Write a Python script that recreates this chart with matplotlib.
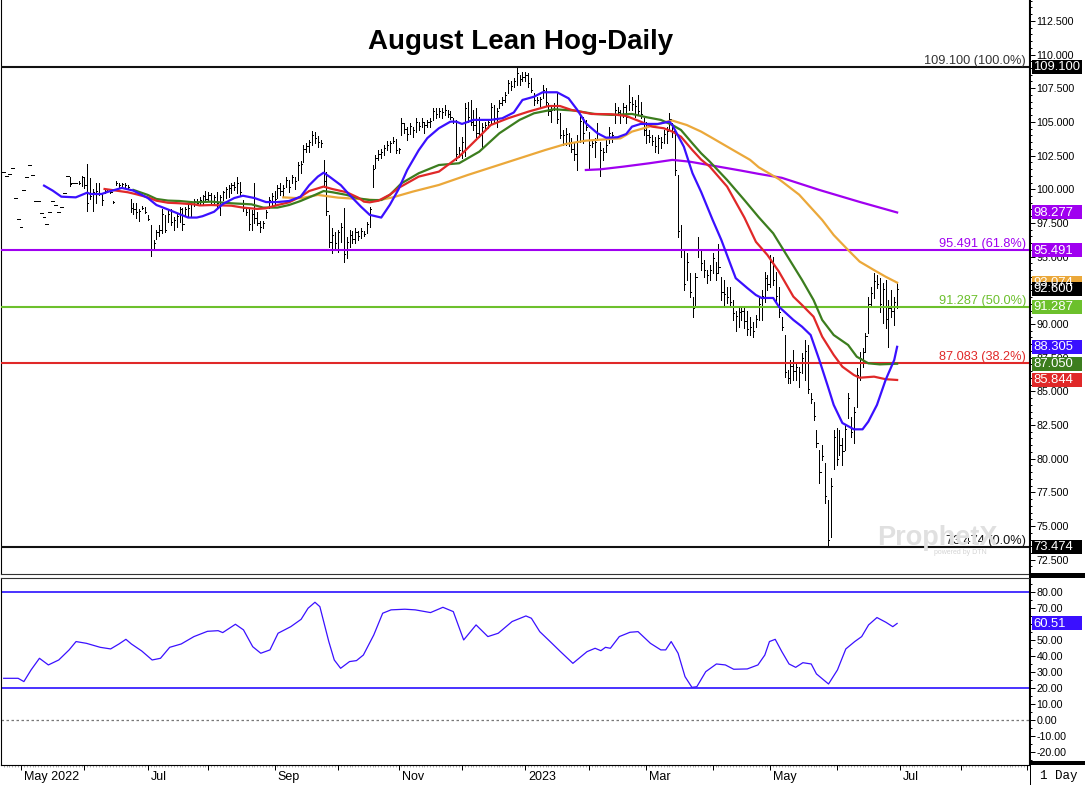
import numpy as np
import pandas as pd
import matplotlib
matplotlib.use("Agg")
import matplotlib.pyplot as plt
import matplotlib.transforms as mtransforms
from matplotlib.patches import Rectangle
from matplotlib.lines import Line2D
from matplotlib.ticker import MultipleLocator
from matplotlib import font_manager as fm

# ---------------- data ----------------
start_date = "2022-04-22"

bar_high = [
    101.3, 101.0, 101.1, 101.6, 99.35, 97.8, 97.2, 99.95, 100.9, 101.8,
    101.05, 99.1, 99.1, 98.25, 97.95, 97.4, 98.3, 99.1, 98.8, 98.3,
    98.7, 99.7, 101.0, 100.9, 100.45, 100.45, 100.6, 101.0, 100.9, 101.9,
    100.8, 100.0, 100.5, 100.45, 99.7, 100.0, 100.0, 99.9, 99.1, 100.6,
    100.45, 100.5, 100.5, 100.3, 99.3, 99.0, 99.0, 98.5, 98.75, 98.7,
    98.1, 97.35, 96.2, 97.0, 97.35, 98.5, 98.1, 98.5, 98.5, 97.95,
    98.25, 98.7, 98.6, 98.7, 98.85, 99.1, 99.3, 99.3, 99.4, 99.6,
    99.9, 99.8, 99.7, 99.6, 99.8, 99.6, 99.9, 100.2, 100.3, 100.45,
    100.55, 100.9, 100.55, 99.2, 98.7, 98.6, 98.45, 100.45, 98.3, 97.65,
    97.65, 98.45, 99.4, 99.7, 99.9, 100.3, 100.5, 100.3, 100.9, 100.7,
    101.05, 100.9, 102.0, 102.1, 103.3, 103.45, 103.65, 104.3, 104.25, 103.95,
    103.65, 102.2, 101.3, 98.1, 97.1, 96.8, 97.0, 97.5, 98.6, 96.45,
    97.0, 96.9, 97.1, 96.9, 97.1, 96.9, 97.55, 98.7, 101.8, 102.55,
    102.9, 103.0, 103.3, 103.6, 103.6, 103.9, 103.75, 103.1, 105.3, 104.9,
    104.6, 104.9, 104.6, 105.3, 105.0, 105.3, 105.0, 105.15, 105.3, 106.0,
    106.0, 106.0, 106.0, 106.25, 105.9, 105.8, 105.3, 105.15, 103.15, 103.9,
    106.4, 106.5, 106.6, 105.9, 106.0, 105.4, 104.9, 105.0, 105.15, 106.4,
    106.25, 106.0, 106.6, 106.85, 107.2, 108.1, 108.0, 108.25, 109.1, 108.5,
    108.7, 108.7, 108.6, 108.25, 107.15, 106.85, 106.85, 107.75, 107.5, 106.4,
    106.25, 106.4, 107.15, 105.65, 104.4, 104.55, 104.2, 103.8, 103.45, 104.0,
    105.6, 105.4, 105.15, 104.25, 103.65, 103.8, 104.9, 103.5, 103.05, 103.65,
    104.6, 104.25, 106.4, 106.1, 105.9, 106.4, 106.25, 107.75, 106.85, 106.6,
    107.0, 106.5, 105.3, 105.0, 104.4, 104.05, 103.9, 104.05, 103.9, 104.4,
    104.6, 105.65, 104.9, 104.4, 101.06, 97.35, 95.5, 95.3, 93.8, 92.0,
    93.8, 96.46, 95.5, 94.75, 94.0, 94.4, 95.3, 94.6, 95.9, 93.5,
    93.3, 92.75, 92.75, 91.8, 91.0, 91.3, 91.3, 91.2, 91.0, 90.5,
    90.15, 90.7, 92.0, 92.5, 93.85, 93.6, 95.1, 95.0, 93.85, 92.75,
    90.5, 89.2, 86.6, 87.3, 88.05, 87.1, 86.8, 87.85, 88.8, 88.45,
    84.9, 84.2, 82.1, 80.65, 81.0, 79.7, 76.93, 78.6, 82.1, 82.3,
    82.1, 81.5, 82.5, 84.9, 83.1, 83.85, 86.7, 87.9, 88.2, 89.3,
    92.0, 92.75, 93.8, 93.6, 93.45, 93.05, 93.3, 91.8, 92.5, 92.0, 93.05,
]

bar_low = [
    101.3, 101.0, 101.1, 101.6, 99.35, 97.8, 97.2, 99.95, 100.9, 101.8,
    101.05, 99.1, 99.1, 98.25, 97.95, 97.4, 98.3, 99.1, 98.8, 98.3,
    98.7, 99.7, 101.0,
    100.25, 100.45, 100.45, 100.4, 100.25, 100.1, 98.4,
    99.3, 98.4, 99.0, 99.6, 98.85, 99.75, 99.8, 99.75, 99.0, 100.3,
    100.2, 100.15, 100.2, 100.1, 98.3, 98.2, 97.9, 97.65, 98.5, 98.25,
    97.7, 95.05, 95.6, 96.3, 96.5, 96.75, 96.8, 97.6, 97.35, 97.0,
    97.2, 97.6, 97.0, 98.1, 97.95, 97.95, 98.75, 98.8, 98.9, 98.9,
    99.1, 99.2, 98.9, 98.85, 98.7, 98.1, 99.2, 99.35, 99.4, 99.7,
    99.95, 99.7, 99.6, 98.4, 98.1, 97.0, 97.0, 97.5, 97.35, 96.8,
    97.1, 97.9, 98.6, 98.75, 98.9, 99.35, 99.6, 99.4, 100.15, 99.8,
    100.45, 100.0, 100.7, 101.2, 102.0, 102.75, 102.75, 103.3, 103.45, 103.15,
    103.15, 100.2, 98.1, 95.7, 95.3, 95.5, 95.35, 96.1, 94.6, 94.9,
    95.7, 96.0, 96.0, 96.2, 96.4, 96.5, 96.75, 97.2, 100.2, 101.6,
    102.2, 102.3, 102.55, 102.9, 102.8, 103.4, 102.7, 102.7, 104.0, 104.2,
    103.65, 104.1, 103.9, 104.25, 104.4, 104.6, 104.2, 104.6, 104.6, 105.15,
    105.3, 105.4, 105.3, 105.5, 105.4, 105.2, 104.9, 102.2, 102.4, 102.3,
    102.5, 105.0, 104.8, 104.4, 103.9, 103.9, 103.05, 104.4, 104.55, 104.9,
    105.0, 104.6, 106.0, 106.25, 106.5, 107.15, 107.4, 107.6, 107.75, 107.75,
    108.0, 108.0, 107.6, 107.2, 106.25, 106.4, 106.1, 106.8, 106.25, 105.5,
    105.0, 105.9, 104.9, 103.8, 103.3, 103.3, 103.2, 102.75, 102.2, 101.4,
    103.5, 103.45, 104.4, 101.6, 103.15, 102.4, 103.65, 101.0, 102.2, 102.75,
    103.45, 103.5, 104.9, 105.5, 104.9, 105.4, 104.9, 105.9, 105.9, 105.4,
    105.5, 105.3, 104.05, 103.45, 103.5, 103.3, 102.75, 102.7, 103.05, 103.45,
    103.45, 104.4, 103.9, 101.06, 96.46, 95.0, 92.5, 93.3, 92.0, 90.5,
    91.3, 95.0, 94.0, 93.5, 93.05, 93.3, 93.8, 93.3, 93.8, 91.8,
    91.3, 91.55, 91.3, 90.3, 89.5, 89.8, 90.3, 89.7, 89.2, 89.2,
    89.0, 89.8, 90.3, 90.3, 91.6, 92.5, 92.75, 92.9, 91.55, 90.5,
    89.55, 86.05, 85.6, 85.6, 85.85, 85.85, 85.3, 86.35, 85.85, 84.9,
    84.15, 82.9, 80.85, 78.2, 79.9, 76.7, 73.474, 74.2, 79.2, 79.5,
    80.3, 79.5, 80.65, 83.0, 81.6, 81.2, 83.8, 85.85, 86.8, 87.9,
    89.3, 91.3, 91.9, 92.65, 90.9, 90.05, 89.7, 88.3, 90.5, 89.9, 91.2,
]

bar_close = [
    101.3, 101.0, 101.1, 101.6, 99.35, 97.8, 97.2, 99.95, 100.9, 101.8,
    101.05, 99.1, 99.1, 98.25, 97.95, 97.4, 98.3, 99.1, 98.8, 98.3,
    98.7, 99.7, 101.0,
    100.4, 100.45, 100.45, 100.5, 100.9, 100.3, 99.0,
    99.5, 99.8, 99.9, 99.7, 99.2, 99.9, 99.9, 99.8, 99.05, 100.5,
    100.3, 100.4, 100.3, 100.2, 98.6, 98.5, 98.3, 98.4, 98.6, 98.3,
    97.8, 95.6, 96.0, 96.8, 97.0, 98.2, 97.0, 98.2, 97.6, 97.7,
    98.0, 98.5, 97.4, 98.5, 98.6, 98.9, 99.1, 99.0, 99.2, 99.5,
    99.3, 99.6, 99.1, 99.4, 99.0, 99.4, 99.8, 100.0, 100.1, 100.3,
    100.2, 100.5, 99.8, 98.6, 98.3, 97.4, 98.2, 97.9, 97.5, 97.2,
    97.5, 98.3, 99.2, 99.5, 99.3, 100.1, 99.9, 100.1, 100.7, 100.2,
    100.9, 100.6, 101.8, 101.9, 103.0, 103.2, 103.5, 104.0, 103.8, 103.5,
    103.4, 100.6, 98.4, 96.1, 96.6, 96.0, 96.8, 97.2, 95.2, 96.1,
    96.6, 96.3, 96.8, 96.5, 96.9, 96.7, 97.4, 98.5, 101.5, 102.3,
    102.6, 102.8, 103.1, 103.3, 103.4, 103.6, 102.9, 103.0, 104.9, 104.5,
    104.1, 104.7, 104.4, 105.0, 104.7, 105.0, 104.8, 105.0, 105.1, 105.8,
    105.6, 105.8, 105.7, 105.9, 105.6, 105.4, 105.1, 102.6, 102.9, 103.5,
    106.0, 105.4, 105.0, 104.8, 104.2, 104.1, 104.6, 104.8, 105.0, 106.1,
    105.3, 105.8, 106.4, 106.6, 107.0, 107.9, 107.7, 108.0, 108.6, 108.2,
    108.3, 108.5, 107.9, 107.4, 106.6, 106.6, 106.7, 107.4, 106.5, 105.8,
    105.9, 106.2, 105.2, 104.0, 104.0, 104.1, 103.5, 103.0, 102.6, 103.6,
    105.1, 104.2, 104.6, 103.3, 103.4, 103.5, 104.2, 102.9, 102.8, 103.3,
    104.2, 104.0, 105.9, 105.7, 105.5, 106.1, 105.4, 106.5, 106.3, 106.2,
    105.8, 105.6, 104.4, 104.0, 103.9, 103.6, 103.2, 103.8, 103.5, 104.1,
    104.3, 105.2, 104.3, 101.4, 96.9, 95.5, 93.0, 94.6, 92.4, 91.2,
    93.5, 95.6, 94.5, 94.0, 93.6, 94.0, 94.9, 93.8, 94.2, 92.4,
    92.2, 92.0, 91.6, 90.8, 90.6, 90.9, 91.0, 90.2, 89.6, 89.8,
    89.5, 90.4, 91.5, 92.1, 93.4, 93.0, 94.6, 93.3, 92.1, 90.9,
    89.8, 86.4, 86.0, 86.9, 86.5, 86.8, 86.4, 87.5, 88.0, 85.2,
    84.4, 83.2, 81.2, 79.0, 80.2, 77.2, 74.0, 78.0, 81.6, 80.0,
    81.0, 80.6, 82.2, 84.5, 82.0, 83.5, 86.2, 87.5, 87.9, 89.1,
    91.5, 92.3, 93.2, 93.0, 91.5, 92.6, 90.4, 91.2, 91.0, 91.6, 92.6,
]

# moving averages: (trading-day index, value)
ma_blue = [
    (14, 100.27), (17, 99.9), (20, 99.45), (25, 99.4), (29, 99.75), (30, 99.65),
    (34, 99.65), (36, 99.8), (41, 100.1), (45, 99.9), (50, 99.35), (53, 98.83),
    (57, 98.5), (60, 98.24), (64, 97.9), (67, 97.9), (69, 98.0), (73, 98.33),
    (76, 98.9), (80, 99.35), (83, 99.52), (87, 99.35), (91, 99.05), (95, 99.05),
    (99, 99.13), (103, 99.45), (106, 100.3), (109, 100.94), (111, 101.23),
    (113, 100.94), (117, 100.3), (120, 99.58), (124, 98.7), (127, 98.1),
    (131, 97.9), (134, 98.85), (137, 100.0), (140, 101.43), (144, 102.9),
    (147, 103.8), (151, 104.53), (155, 105.02), (157, 105.02), (159, 104.85),
    (163, 105.15), (169, 105.15), (173, 105.27), (177, 105.7), (180, 106.63),
    (184, 106.87), (187, 107.2), (192, 107.2), (196, 106.75), (199, 105.9),
    (202, 104.9), (206, 104.16), (209, 103.83), (213, 103.86), (216, 104.1),
    (218, 104.65), (221, 104.85), (227, 104.85), (231, 105.02), (232, 104.77),
    (236, 103.16), (239, 101.19), (242, 99.8), (246, 97.72), (249, 96.24),
    (252, 94.53), (254, 93.4), (258, 92.67), (261, 92.15), (263, 91.93),
    (267, 91.93), (269, 91.28), (274, 90.3), (277, 89.8), (280, 89.18),
    (283, 87.33), (286, 85.35), (288, 83.99), (291, 82.65), (295, 82.18),
    (298, 82.18), (300, 82.75), (303, 83.99), (306, 85.84), (309, 87.33),
    (310, 88.305),
]
ma_red = [
    (35, 100.02), (39, 99.9), (43, 99.78), (46, 99.63), (50, 99.4), (53, 99.15),
    (57, 99.0), (61, 98.96), (66, 98.88), (68, 98.8), (72, 98.83), (79, 98.78),
    (83, 98.64), (88, 98.54), (91, 98.59), (95, 98.83), (99, 99.03), (103, 99.45),
    (106, 99.87), (111, 100.2), (114, 100.02), (119, 99.78), (123, 99.38),
    (125, 99.08), (127, 99.03), (130, 99.15), (134, 99.6), (137, 100.1),
    (144, 100.94), (151, 101.31), (158, 102.42), (165, 103.9), (169, 104.77),
    (175, 105.27), (182, 105.76), (189, 106.18), (193, 106.18), (197, 105.89),
    (204, 105.59), (211, 105.57), (216, 105.44), (221, 105.02), (225, 104.65),
    (229, 104.53), (232, 104.28), (235, 103.9), (239, 102.9), (242, 102.2),
    (245, 101.68), (251, 100.2), (257, 97.9), (261, 96.1), (265, 95.12),
    (269, 93.88), (274, 92.03), (277, 91.41), (281, 90.54), (284, 89.06),
    (288, 87.7), (291, 86.83), (295, 86.21), (297, 86.01), (302, 86.09),
    (306, 85.9), (310, 85.844),
]
ma_green = [
    (45, 99.95), (50, 99.58), (53, 99.28), (57, 99.16), (61, 99.13), (66, 99.03),
    (72, 99.08), (79, 98.96), (86, 98.88), (90, 98.64), (95, 98.64), (99, 98.83),
    (103, 99.13), (108, 99.58), (111, 99.87), (114, 99.78), (119, 99.58),
    (123, 99.33), (127, 99.2), (131, 99.2), (134, 99.58), (138, 100.44),
    (144, 101.19), (151, 101.8), (158, 101.93), (165, 102.79), (172, 104.16),
    (179, 105.15), (184, 105.64), (191, 105.94), (198, 105.84), (205, 105.59),
    (211, 105.52), (218, 105.59), (223, 105.35), (228, 105.15), (232, 104.77),
    (235, 104.4), (239, 103.4), (242, 102.67), (245, 102.05), (251, 100.69),
    (257, 99.2), (262, 97.92), (267, 96.73), (272, 95.0), (277, 93.27),
    (281, 91.78), (284, 90.3), (288, 89.18), (293, 88.44), (296, 87.57),
    (300, 87.08), (304, 87.0), (310, 87.05),
]
ma_orange = [
    (97, 99.4), (103, 99.33), (109, 99.58), (116, 99.38), (123, 99.28),
    (130, 99.18), (135, 99.4), (142, 99.83), (151, 100.32), (161, 101.06),
    (170, 101.68), (179, 102.3), (188, 102.92), (195, 103.36), (202, 103.61),
    (209, 103.71), (214, 103.78), (218, 104.28), (224, 104.65), (230, 105.02),
    (232, 105.1), (237, 104.77), (242, 104.28), (246, 103.79), (253, 102.92),
    (259, 102.18), (262, 101.63), (269, 100.75), (276, 99.6), (284, 97.72),
    (288, 96.6), (293, 95.49), (297, 94.63), (302, 94.0), (306, 93.51),
    (310, 93.07),
]
ma_purple = [
    (202, 101.43), (207, 101.48), (215, 101.68), (224, 101.93), (232, 102.18),
    (238, 102.05), (242, 101.9), (248, 101.68), (256, 101.38), (262, 101.14),
    (270, 100.85), (283, 99.95), (297, 99.06), (310, 98.277),
]

# oscillator in lower panel: (trading-day index, value)
rsi = [
    (0, 26.25), (5, 26.25), (7, 24.2), (9.5, 31.5), (12.4, 38.75), (15.5, 34.6),
    (19.1, 37.7), (22.7, 44.0), (25.1, 49.2), (28.7, 48.1), (33.5, 45.6),
    (37.1, 44.6), (40, 47.7), (42.4, 50.6), (44.3, 47.7), (47.9, 43.3),
    (51.5, 37.7), (54.4, 38.75), (57.6, 45.6), (61.6, 47.7), (66, 52.3),
    (70.7, 55.6), (74.4, 56.0), (76, 54.8), (80.4, 60.0), (83.2, 56.5),
    (86.4, 46.0), (89.2, 41.9), (92.4, 44.0), (95.2, 54.4), (99.6, 58.5),
    (103.2, 63.1), (105.6, 70.0), (108, 73.75), (109.7, 71.0), (112.8, 49.2),
    (114.7, 37.7), (116.9, 32.5), (120, 36.7), (122.4, 37.3), (124.8, 40.8),
    (128.4, 53.3), (131.5, 66.9), (134.4, 69.0), (139.2, 69.4), (142.8, 69.0),
    (148.1, 67.3), (152.4, 70.6), (156, 67.9), (159.6, 50.2), (163.9, 59.6),
    (168, 52.3), (171.6, 54.4), (176.4, 61.7), (181.2, 65.2), (183.1, 63.75),
    (186, 55.4), (189.6, 49.2), (193.2, 42.9), (197.5, 35.6), (202.4, 42.9),
    (205.2, 45.0), (207.2, 43.5), (208.8, 45.6), (210.5, 45.0), (213.6, 52.3),
    (217.3, 55.0), (220.1, 55.4), (224.4, 48.1), (228, 44.0), (229.7, 44.0),
    (231.6, 49.2), (234, 41.9), (236.4, 27.3), (238.8, 20.6), (240.5, 21.0),
    (243.6, 30.4), (247.3, 35.2), (250.4, 34.6), (253.3, 31.9), (258, 32.1),
    (261.7, 34.6), (264.1, 40.8), (265.7, 49.2), (267.7, 50.6), (270, 42.9),
    (272.5, 35.2), (274.8, 33.1), (277.3, 36.0), (280.2, 35.2), (282, 29.0),
    (286.2, 22.7), (289.3, 31.5), (292.2, 44.6), (295.3, 49.2), (297.7, 52.3),
    (300.1, 59.6), (303, 64.2), (306.1, 61.25), (308.5, 58.5), (310, 60.51),
]

fib_levels = [109.100, 95.491, 91.287, 87.083, 73.474]
fib_texts = ["109.100 (100.0%)", "95.491 (61.8%)", "91.287 (50.0%)",
             "87.083 (38.2%)", "73.474 (0.0%)"]
fib_colors = ["#111111", "#a000f0", "#6cc02c", "#e02828", "#111111"]
fib_text_colors = ["#333333", "#a000f0", "#6cc02c", "#e02828", "#111111"]

# value boxes on the price scale
price_boxes = [
    (109.100, "109.100", "#000000"),
    (98.277, "98.277", "#a000f0"),
    (95.491, "95.491", "#a000f0"),
    (93.074, "93.074", "#eba83a"),
    (92.600, "92.600", "#000000"),
    (91.287, "91.287", "#6cc02c"),
    (88.305, "88.305", "#3a10ff"),
    (87.050, "87.050", "#3c7d1e"),
    (85.844, "85.844", "#e02828"),
    (73.474, "73.474", "#000000"),
]
rsi_box = (60.51, "60.51", "#3a10ff")
rsi_bands = [80, 20]

price_ticks = np.arange(72.5, 112.6, 2.5)
rsi_ticks = np.arange(-20, 81, 10)
month_labels = ["May 2022", "", "Jul", "", "Sep", "", "Nov", "", "2023",
                "", "Mar", "", "May", "", "Jul", "", ""]

# ---------------- styling ----------------
def has_font(name):
    try:
        fm.findfont(fm.FontProperties(family=name), fallback_to_default=False)
        return True
    except Exception:
        return False

plt.rcParams["font.family"] = ["Liberation Sans", "DejaVu Sans"]
if has_font("Liberation Sans Narrow"):
    tick_family, tick_size = "Liberation Sans Narrow", 8.6
else:
    tick_family, tick_size = "Liberation Sans", 7.7

W, H = 1085, 785
PX = 0.72  # one pixel in points at 100 dpi
fig = plt.figure(figsize=(W / 100, H / 100), dpi=100)
fig.patch.set_facecolor("white")


def frame(x0, y0, x1, y1):
    return [x0 / W, 1 - y1 / H, (x1 - x0) / W, (y1 - y0) / H]


ax = fig.add_axes(frame(1, 0, 1029, 574))
ax2 = fig.add_axes(frame(1, 578, 1029, 765), sharex=ax)

hi = np.array(bar_high, dtype=float)
lo = np.array(bar_low, dtype=float)
cl = np.array(bar_close, dtype=float)
n = min(len(hi), len(lo), len(cl))
hi, lo, cl = hi[:n], lo[:n], cl[:n]
idx = np.arange(n)
dates = pd.bdate_range(start_date, periods=360)

flat = np.isclose(hi, lo)
ax.vlines(idx[~flat], lo[~flat], hi[~flat], color="black", lw=PX,
          antialiased=False, zorder=2)
ax.hlines(cl[~flat], idx[~flat], idx[~flat] + 0.42, color="black", lw=PX,
          antialiased=False, zorder=2)
ax.hlines(cl[flat], idx[flat] - 0.5, idx[flat] + 0.5, color="black", lw=PX,
          antialiased=False, zorder=2)

# fib retracement lines
for lvl, txt, c, tc in zip(fib_levels, fib_texts, fib_colors, fib_text_colors):
    ax.axhline(lvl, color=c, lw=1.5, zorder=3)
    ax.annotate(txt, xy=(1, lvl), xycoords=("axes fraction", "data"),
                xytext=(-2.2, 2.0), textcoords="offset points",
                ha="right", va="baseline", color=tc, fontsize=9.2, zorder=5)

# moving averages
for series, color in [(ma_purple, "#a000f0"), (ma_orange, "#eba83a"),
                      (ma_green, "#3c7d1e"), (ma_red, "#e02828"),
                      (ma_blue, "#3a10ff")]:
    d, v = zip(*series)
    ax.plot(d, v, color=color, lw=1.6, solid_joinstyle="round", zorder=4)

ax.set_xlim(-0.94, 355.76)
ax.set_ylim(71.44, 114.05)

# price axis
ax.yaxis.tick_right()
ax.set_yticks(price_ticks)
ax.set_yticklabels([f"{t:.3f}" for t in price_ticks])
ax.yaxis.set_minor_locator(MultipleLocator(0.5))
ax.tick_params(axis="y", which="major", length=4, width=PX, direction="out",
               pad=1.5, labelsize=tick_size, labelfontfamily=tick_family,
               colors="black")
ax.tick_params(axis="y", which="minor", length=2, width=PX, direction="out")
ax.tick_params(axis="x", which="both", bottom=False, labelbottom=False)
ax.spines["top"].set_visible(False)
ax.spines["right"].set_color("black")
ax.spines["left"].set_color("black")
ax.spines["bottom"].set_color("#333333")

# title
fig.text(521 / W, 1 - 49 / H, "August Lean Hog-Daily", ha="center",
         va="baseline", fontsize=20, weight="bold", color="black")

# watermark
fig.text(877 / W, 1 - 545 / H, "ProphetX", fontsize=19.5, weight="bold",
         color="#e0e0e0", va="baseline", ha="left", zorder=1)
fig.text(934 / W, 1 - 554 / H, "powered by DTN", fontsize=5, color="#d4d4d4",
         va="baseline", ha="left", zorder=1)

# lower panel
rd, rv = zip(*rsi)
ax2.plot(rd, rv, color="#3a10ff", lw=0.9, zorder=3)
for b in rsi_bands:
    ax2.axhline(b, color="#2a10ff", lw=1.2, zorder=2)
ax2.axhline(0, color="#777777", lw=0.9, ls=(0, (2, 2)), zorder=2)
ax2.set_ylim(-27.9, 88.9)
ax2.yaxis.tick_right()
ax2.set_yticks(rsi_ticks)
ax2.set_yticklabels([f"{t:.2f}" for t in rsi_ticks])
ax2.yaxis.set_minor_locator(MultipleLocator(5))
ax2.tick_params(axis="y", which="major", length=4, width=PX, direction="out",
                pad=1.5, labelsize=tick_size, labelfontfamily=tick_family)
ax2.tick_params(axis="y", which="minor", length=2, width=PX, direction="out")
ax2.spines["top"].set_color("#333333")
ax2.spines["left"].set_color("black")
ax2.spines["right"].set_color("black")
ax2.spines["bottom"].set_color("black")

# date axis
month_starts = [i for i in range(1, len(dates)) if dates[i].month != dates[i - 1].month]
month_starts = month_starts[:len(month_labels)]
ax2.set_xticks(month_starts)
ax2.set_xticklabels(month_labels[:len(month_starts)])
ax2.xaxis.set_minor_locator(MultipleLocator(1))
ax2.tick_params(axis="x", which="major", length=3.5, width=PX, direction="out",
                pad=0.8, labelsize=9, colors="black")
ax2.tick_params(axis="x", which="minor", length=1.5, width=0.5,
                direction="out", color="#909090")
ax2.set_xlim(-0.94, 355.76)
offset = mtransforms.ScaledTranslation(3 / 100, 0, fig.dpi_scale_trans)
for lab in ax2.get_xticklabels():
    lab.set_horizontalalignment("left")
    lab.set_transform(lab.get_transform() + offset)

# separators & right-hand blocks
ident = mtransforms.IdentityTransform()
fig.add_artist(Rectangle((1029, H - 578), W - 1029, 5, transform=ident,
                         facecolor="black", edgecolor="none", zorder=6))
fig.add_artist(Rectangle((1029, H - 765), W - 1029, 4, transform=ident,
                         facecolor="black", edgecolor="none", zorder=6))
fig.add_artist(Line2D([1029.5, 1029.5], [0, H], transform=ident,
                      color="black", lw=PX, zorder=6))
fig.text(1040 / W, 1 - 776 / H, "1 Day", family=["Liberation Mono", "DejaVu Sans Mono"],
         fontsize=9, va="center", ha="left", color="black")


def value_box(axis, value, text, color):
    ypx = axis.transData.transform((0, value))[1]
    fig.add_artist(Rectangle((1032, ypx - 7), 50, 14, transform=ident,
                             facecolor=color, edgecolor="none", zorder=7))
    fig.text(1033.5, ypx - 0.5, text, transform=ident, color="white",
             fontsize=9.4, va="center", ha="left", zorder=8)


for v, t, c in price_boxes:
    value_box(ax, v, t, c)
value_box(ax2, *rsi_box)

fig.savefig("out.png", dpi=100, facecolor="white")
